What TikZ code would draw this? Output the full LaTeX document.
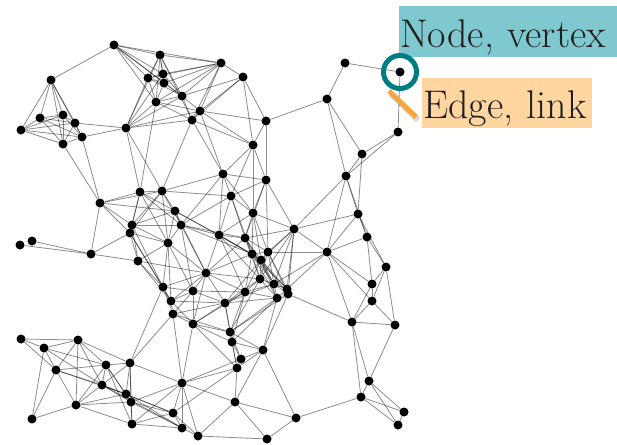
\documentclass[tikz,border=0pt]{standalone}
\usepackage{tikz}
\usetikzlibrary{positioning}
\definecolor{labelteal}{RGB}{127,200,208}
\definecolor{ringteal}{RGB}{0,125,130}
\definecolor{labelorange}{RGB}{255,214,160}
\definecolor{barorange}{RGB}{245,166,60}
\tikzset{
    %Define style for the dots
    main node/.style={
           circle,
           fill=black,
           inner sep=0pt,
           minimum size=9pt},
    % Define style for the links
    link/.style={
           draw=black,
           opacity=0.45,
           line width=0.8pt},
    % Define style for the labels
    labelbox/.style={
           rectangle,
           anchor=north west,
           inner xsep=1pt,
           inner ysep=0pt,
           align=left,
           text height=41pt,
           text depth=10pt,
           text=black!88,
           font=\fontsize{40}{44}\selectfont}
}

\begin{document}
\begin{tikzpicture}[x=1pt,y=-1pt]
\useasboundingbox (0,0) rectangle (617,444);

 %nodes
\foreach \name/\x/\y in {
    a1/114/45, a2/160/55, a3/148/78, a4/163/74, a5/164/83, a6/182/96,
    a7/156/102, a8/200/111, a9/192/120, a10/221/63, a11/243/77,
    a12/266/121, a13/253/145, a14/51/80, a15/40/118, a16/63/115,
    a17/75/123, a18/21/130, a19/82/137, a20/63/144, a21/126/128,
    r1/345/63, r2/400/72, r3/327/99, r4/398/132, r5/362/154, r6/346/176,
    r7/358/214, r8/367/237, r9/327/252, r10/386/267, r11/372/284,
    r12/372/301, r13/352/322, r14/395/325, r15/369/381, r16/361/397,
    r17/404/412, r18/398/425, r19/296/418, r20/294/229,
    m1/223/174, m2/266/180, m3/231/196, m4/253/213, m5/100/203,
    m6/140/192, m7/162/191, m8/175/211, m9/132/225, m10/130/233,
    m11/181/225, m12/168/243, m13/219/235, m14/245/238, m15/252/254,
    m16/268/252, m17/261/260, m18/138/261, m19/206/273, m20/260/279,
    m21/274/284, m22/287/289, m23/288/294, m24/277/298, m25/163/287,
    m26/193/291, m27/245/292, m28/171/301, m29/225/303, m30/173/314,
    m31/193/324, m32/230/332, m33/232/342, m34/263/350, m35/241/359,
    m36/237/368, m37/32/241, m38/20/245, m39/91/254,
    b1/21/339, b2/44/348, b3/78/340, b4/56/370, b5/106/365, b6/130/363,
    b7/102/385, b8/126/394, b9/131/402, b10/76/405, b11/32/419,
    b12/132/424, b13/173/413, b14/182/383, b15/182/428, b16/198/436,
    b17/235/402, b18/267/439}
    \node[main node] (\name) at (\x,\y) {};

 %links
\foreach \a/\b in {
    a14/a1, a14/a15, a14/a16, a14/a17, a14/a18, a14/a19, a14/a20,
    a18/a15, a18/a16, a18/a17, a18/a19, a18/a20,
    a15/a16, a15/a17, a15/a19, a15/a20, a16/a17, a16/a19, a16/a20,
    a17/a19, a17/a20, a17/a21, a19/a20, a19/a21, a19/m5, a20/m5,
    a21/a2, a21/a3, a21/a4, a21/a6, a21/a7, a21/a8, a21/a9, a21/m6, a21/m7,
    a1/a2, a1/a3, a1/a4, a1/a5, a1/a6, a1/a7, a1/a10,
    a2/a3, a2/a4, a2/a5, a2/a6, a2/a7, a2/a9, a2/a10,
    a3/a4, a3/a5, a3/a6, a3/a7, a3/a10, a4/a5, a4/a6, a4/a10,
    a5/a6, a5/a7, a5/a10, a6/a7, a6/a8, a6/a9, a6/a10, a6/a11,
    a7/a8, a7/a9, a7/a10, a7/m6,
    a8/a9, a8/a10, a8/a11, a8/a12, a8/a13, a8/m1,
    a9/a10, a9/a11, a9/a13, a9/m1, a9/m7,
    a10/a11, a11/a12, a11/a13, a12/a13, a12/r3, a12/m2,
    a13/m1, a13/m2, a13/m3, a13/m4}
    \draw[link] (\a) -- (\b);
\foreach \a/\b in {
    r1/r2, r1/r3, r2/r4, r3/r5, r3/r6, r4/r5, r4/r6, r5/r6, r5/r7,
    r6/r7, r6/r8, r6/r9, r6/r20, r7/r8, r7/r9, r7/r10, r7/r20,
    r8/r9, r8/r10, r8/r11, r9/r11, r9/r12, r9/r13, r9/r20,
    r9/m16, r9/m21, r9/m22, r10/r11, r10/r12, r10/r14,
    r11/r12, r11/r13, r12/r13, r12/r14, r13/r14, r13/r15, r13/r16, r13/m23,
    r14/r15, r15/r16, r15/r17, r15/r18, r16/r17, r16/r18, r16/r19,
    r17/r18, r19/b17, r19/b18, r19/m34,
    r20/m2, r20/m4, r20/m14, r20/m16, r20/m17, r20/m20, r20/m21,
    r20/m22, r20/m23}
    \draw[link] (\a) -- (\b);
\foreach \a/\b in {
    m1/m2, m1/m3, m1/m4, m1/m7, m1/m11, m1/m13,
    m2/m3, m2/m4, m2/m14, m2/m16,
    m3/m4, m3/m11, m3/m13, m3/m14, m3/m15,
    m4/m13, m4/m14, m4/m15, m4/m16, m4/m17,
    m5/m6, m5/m7, m5/m8, m5/m9, m5/m10, m5/m39,
    m6/m7, m6/m8, m6/m9, m6/m10, m6/m11, m6/m12,
    m7/m8, m7/m9, m7/m10, m7/m11, m7/m12, m7/m3,
    m8/m9, m8/m11, m8/m12, m8/m13, m8/m15, m8/m19,
    m9/m10, m9/m11, m9/m12, m9/m18, m9/m25,
    m10/m12, m10/m18, m10/m25, m10/m28, m10/m39,
    m11/m12, m11/m13, m11/m14, m11/m15, m11/m19, m11/m26,
    m12/m18, m12/m19, m12/m25, m12/m26, m12/m28,
    m13/m14, m13/m15, m13/m17, m13/m19, m13/m20, m13/m27,
    m14/m15, m14/m16, m14/m17, m14/m19, m14/m20, m14/m21,
    m15/m16, m15/m17, m15/m19, m15/m20, m15/m21, m15/m22, m15/m24, m15/m27,
    m16/m17, m16/m20, m16/m21, m16/m22, m16/m23,
    m17/m20, m17/m21, m17/m22, m17/m23, m17/m24, m17/m27, m17/m29,
    m18/m19, m18/m25, m18/m28, m18/m39,
    m19/m20, m19/m25, m19/m26, m19/m27, m19/m28, m19/m29, m19/m31,
    m20/m21, m20/m22, m20/m24, m20/m27, m20/m29, m20/m32,
    m21/m22, m21/m23, m21/m24, m21/m27, m21/m29,
    m22/m23, m22/m24, m23/m24, m23/m32, m23/m34,
    m24/m27, m24/m29, m24/m32, m24/m33, m24/m34,
    m25/m26, m25/m28, m25/m30, m25/b6,
    m26/m27, m26/m28, m26/m29, m26/m30, m26/m31,
    m27/m29, m27/m31, m27/m32, m27/m33,
    m28/m29, m28/m30, m28/m31,
    m29/m30, m29/m31, m29/m32, m29/m33,
    m30/m31, m30/m32, m30/b6, m30/b14,
    m31/m32, m31/m33, m31/m36, m31/b14,
    m32/m33, m32/m34, m32/m35, m32/m36,
    m33/m34, m33/m35, m33/m36, m34/m35, m34/m36, m34/b17,
    m35/m36, m35/b14, m36/b13, m36/b14, m36/b17,
    m37/m39, m38/m39}
    \draw[link] (\a) -- (\b);
\foreach \a/\b in {
    b1/b2, b1/b3, b1/b4, b2/b3, b2/b4, b2/b5, b2/b7, b2/b11,
    b3/b4, b3/b5, b3/b6, b3/b7, b3/b10,
    b4/b5, b4/b7, b4/b8, b4/b10, b4/b11,
    b5/b6, b5/b7, b5/b8, b5/b9, b5/b10, b5/b12,
    b6/b7, b6/b8, b6/b9, b6/b12, b6/b14,
    b7/b8, b7/b9, b7/b10, b7/b13, b7/b15,
    b8/b9, b8/b10, b8/b13, b8/b15,
    b9/b10, b9/b12, b9/b13, b9/b14, b9/b15,
    b10/b11, b10/b12, b12/b13, b12/b14, b12/b15,
    b13/b14, b13/b15, b13/b16, b14/b15, b14/b16, b14/b17,
    b15/b16, b16/b17, b16/b18, b17/b18}
    \draw[link] (\a) -- (\b);

 %labels
\node[labelbox, fill=labelteal, minimum width=218pt,
      text width=216pt] (nodelabel) at (399,6) {Node, vertex};
\node[circle, draw=ringteal, line width=5pt, minimum size=33pt,
      inner sep=0pt] (ring) at (r2) {};
\node[labelbox, fill=labelorange, minimum width=170pt, text height=40pt,
      text width=168pt] (edgelabel) at (422,78) {Edge, link};
\coordinate (barstart) at (389,91);
\coordinate (barend) at (416,117);
\draw[black, opacity=0.15, line width=6pt] ([shift={(2,3)}]barstart) -- ([shift={(2,3)}]barend);
\draw[barorange, line width=5pt] (barstart) -- (barend);
\end{tikzpicture}
\end{document}
